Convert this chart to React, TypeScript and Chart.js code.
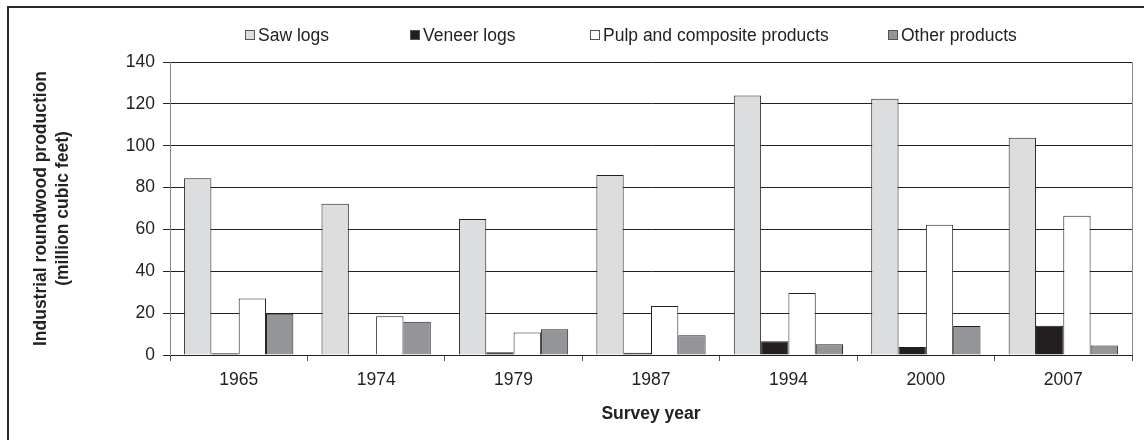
import React, { useEffect, useRef } from "react";
import { Chart, registerables } from "chart.js";

Chart.register(...registerables);

const categories = ["1965", "1974", "1979", "1987", "1994", "2000", "2007"];
const seriesNames = ["Saw logs", "Veneer logs", "Pulp and composite products", "Other products"];
const sawLogs = [84.5, 72.3, 65.0, 86.0, 124.0, 122.5, 103.8];
const veneerLogs = [0.8, 0.3, 1.3, 1.1, 6.6, 3.8, 14.0];
const pulpComposite = [27.0, 18.5, 10.8, 23.4, 29.6, 62.2, 66.5];
const otherProducts = [19.7, 15.9, 12.3, 9.4, 5.1, 13.8, 4.5];
const yTicks = [0, 20, 40, 60, 80, 100, 120, 140];

const yTitleLines = ["Industrial roundwood production", "(million cubic feet)"];
const xTitle = "Survey year";

const FONT = '"Liberation Sans", Arial, sans-serif';
const FS = 17.5;
const colors = ["#dcddde", "#231f20", "#ffffff", "#939598"];
const legendX = [245, 410, 590, 888];

export default function App() {
  const ref = useRef<HTMLCanvasElement | null>(null);

  useEffect(() => {
    if (!ref.current) return;
    const seriesData = [sawLogs, veneerLogs, pulpComposite, otherProducts];

    const decor = {
      id: "decor",
      afterDraw(chart: any) {
        const ctx = chart.ctx as CanvasRenderingContext2D;
        const ca = chart.chartArea;
        ctx.save();
        // plot area right border
        ctx.strokeStyle = "#8a8a8a";
        ctx.lineWidth = 1;
        ctx.beginPath();
        ctx.moveTo(Math.round(ca.right) + 0.5, ca.top);
        ctx.lineTo(Math.round(ca.right) + 0.5, ca.bottom);
        ctx.stroke();
        // outer frame (top + left)
        ctx.strokeStyle = "#2a2a2a";
        ctx.lineWidth = 2;
        ctx.beginPath();
        ctx.moveTo(8, 440);
        ctx.lineTo(8, 7);
        ctx.lineTo(1144, 7);
        ctx.stroke();
        // legend
        ctx.font = FS + "px " + FONT;
        ctx.textBaseline = "middle";
        ctx.textAlign = "left";
        seriesNames.forEach((name, i) => {
          const x = legendX[i];
          ctx.fillStyle = colors[i];
          ctx.fillRect(x + 0.5, 30.5, 9, 9);
          ctx.strokeStyle = "#555";
          ctx.lineWidth = 1;
          ctx.strokeRect(x + 0.5, 30.5, 9, 9);
          ctx.fillStyle = "#222";
          ctx.fillText(name, x + 13, 36);
        });
        // axis titles
        ctx.font = "bold " + FS + "px " + FONT;
        ctx.fillStyle = "#222";
        ctx.textAlign = "center";
        ctx.fillText(xTitle, (ca.left + ca.right) / 2, 414);
        const cy = (ca.top + ca.bottom) / 2;
        ctx.translate(0, cy);
        ctx.rotate(-Math.PI / 2);
        ctx.fillText(yTitleLines[0], 0, 41);
        ctx.fillText(yTitleLines[1], 0, 63);
        ctx.restore();
      },
    };

    const chart = new Chart(ref.current, {
      type: "bar",
      data: {
        labels: categories,
        datasets: seriesNames.map((name, i) => ({
          label: name,
          data: seriesData[i],
          backgroundColor: colors[i],
          borderColor: "#231f20",
          borderWidth: 1,
          categoryPercentage: 0.795,
          barPercentage: 1,
        })),
      },
      options: {
        responsive: false,
        animation: false,
        devicePixelRatio: 1,
        layout: { padding: { top: 62, right: 12, left: 0, bottom: 0 } },
        plugins: {
          legend: { display: false },
          tooltip: { enabled: false },
        },
        scales: {
          x: {
            offset: true,
            grid: {
              offset: true,
              drawOnChartArea: false,
              drawTicks: true,
              tickLength: 6,
              color: "#555",
            },
            border: { display: true, color: "#222", width: 1 },
            ticks: {
              font: { family: FONT, size: FS },
              color: "#222",
              padding: 9,
              maxRotation: 0,
            },
            afterFit(s: any) {
              s.height = 85;
            },
          },
          y: {
            min: 0,
            max: 140,
            afterBuildTicks(s: any) {
              s.ticks = yTicks.map((v) => ({ value: v }));
            },
            grid: {
              color: "#222",
              lineWidth: 1,
              drawTicks: true,
              tickLength: 7,
            },
            border: { display: true, color: "#8a8a8a", width: 1 },
            ticks: {
              font: { family: FONT, size: FS },
              color: "#222",
              padding: 8,
            },
            afterFit(s: any) {
              s.width = 170;
            },
          },
        },
      },
      plugins: [decor],
    });
    return () => chart.destroy();
  }, []);

  return (
    <div style={{ position: "fixed", left: 0, top: 0, width: 1144, height: 440, background: "#fff" }}>
      <canvas ref={ref} width={1144} height={440} style={{ width: 1144, height: 440, display: "block" }} />
    </div>
  );
}
